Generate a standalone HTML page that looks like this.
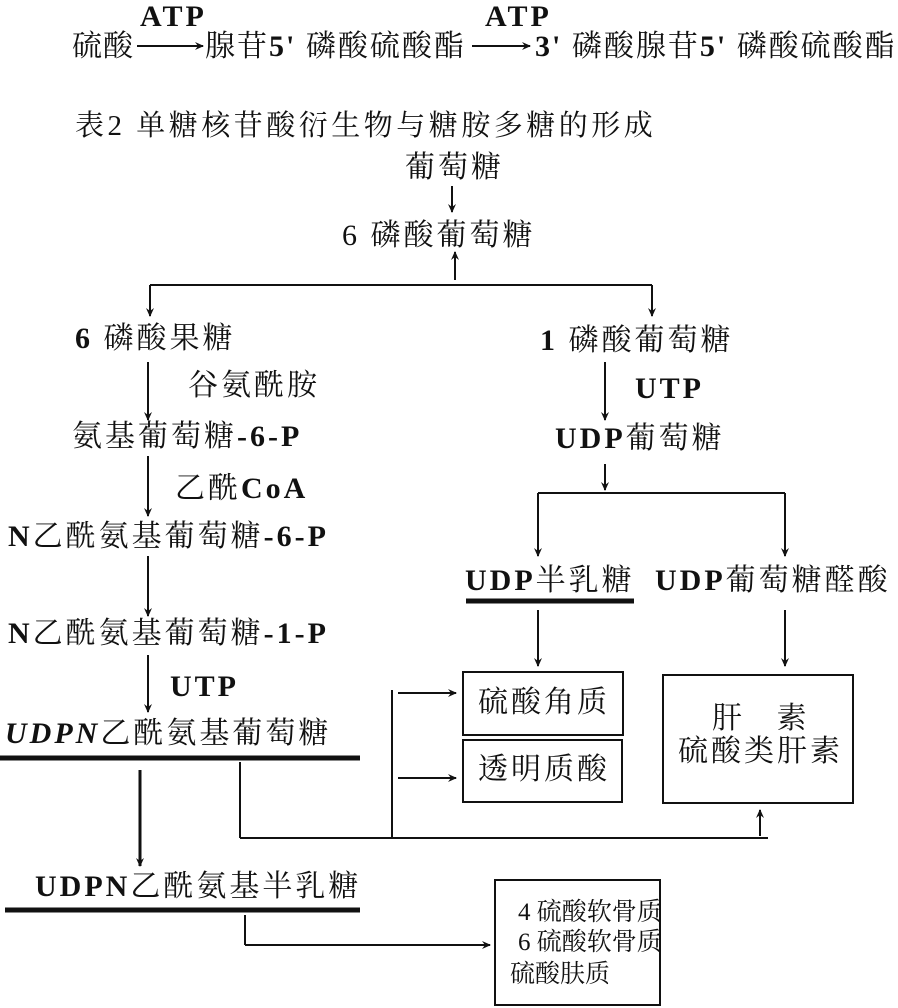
<!DOCTYPE html>
<html><head><meta charset="utf-8"><style>
body{margin:0;width:898px;height:1008px;background:#fff;position:relative;overflow:hidden;font-family:"Liberation Serif","Noto Serif CJK SC","Noto Sans CJK SC",serif;color:#111}
.t{position:absolute;font-size:30px;letter-spacing:3px;white-space:nowrap;line-height:1}
b{font-weight:bold}
svg{position:absolute;left:0;top:0}
</style></head><body>
<svg width="898" height="1008" viewBox="0 0 898 1008">
<defs><marker id="a" markerWidth="10" markerHeight="10" refX="8" refY="5" orient="auto" markerUnits="userSpaceOnUse"><path d="M0,1 L9,5 L0,9 L3,5z" fill="#111"/></marker></defs>
<g stroke="#111" stroke-width="2" fill="none">
<line x1="137" y1="46" x2="203" y2="46" marker-end="url(#a)"/>
<line x1="472" y1="46" x2="530" y2="46" marker-end="url(#a)"/>
<line x1="452" y1="186" x2="452" y2="212" marker-end="url(#a)"/>
<line x1="455" y1="280" x2="455" y2="252" marker-end="url(#a)"/>
<line x1="150" y1="285" x2="652" y2="285"/>
<line x1="150" y1="285" x2="150" y2="316" marker-end="url(#a)"/>
<line x1="652" y1="285" x2="652" y2="316" marker-end="url(#a)"/>
<line x1="148" y1="362" x2="148" y2="420" marker-end="url(#a)"/>
<line x1="605" y1="362" x2="605" y2="420" marker-end="url(#a)"/>
<line x1="148" y1="456" x2="148" y2="516" marker-end="url(#a)"/>
<line x1="605" y1="464" x2="605" y2="490" marker-end="url(#a)"/>
<line x1="538" y1="493" x2="785" y2="493"/>
<line x1="538" y1="493" x2="538" y2="556" marker-end="url(#a)"/>
<line x1="785" y1="493" x2="785" y2="556" marker-end="url(#a)"/>
<line x1="148" y1="556" x2="148" y2="616" marker-end="url(#a)"/>
<line x1="538" y1="610" x2="538" y2="666" marker-end="url(#a)"/>
<line x1="785" y1="610" x2="785" y2="666" marker-end="url(#a)"/>
<line x1="148" y1="655" x2="148" y2="712" marker-end="url(#a)"/>
<line x1="392" y1="690" x2="392" y2="838"/>
<line x1="398" y1="693" x2="456" y2="693" marker-end="url(#a)"/>
<line x1="398" y1="778" x2="456" y2="778" marker-end="url(#a)"/>
<line x1="240" y1="762" x2="240" y2="838"/>
<line x1="240" y1="838" x2="768" y2="838"/>
<line x1="760" y1="836" x2="760" y2="810" marker-end="url(#a)"/>
<line x1="140" y1="770" x2="140" y2="866" stroke-width="3" marker-end="url(#a)"/>
<line x1="245" y1="915" x2="245" y2="945"/>
<line x1="245" y1="945" x2="490" y2="945" marker-end="url(#a)"/>
<rect x="463" y="672" width="160" height="63"/>
<rect x="463" y="740" width="159" height="62"/>
<rect x="663" y="675" width="190" height="128"/>
<rect x="495" y="880" width="165" height="125"/>
</g>
<g stroke="#111" stroke-width="5">
<line x1="466" y1="601" x2="634" y2="601"/>
<line x1="0" y1="758" x2="360" y2="758"/>
<line x1="5" y1="910" x2="360" y2="910"/>
</g>
</svg>
<div class="t" style="left:140px;top:2px"><b>ATP</b></div>
<div class="t" style="left:485px;top:2px"><b>ATP</b></div>
<div class="t" style="left:72px;top:32px;letter-spacing:1px">硫酸</div>
<div class="t" style="left:205px;top:32px;letter-spacing:2px">腺苷<b>5'</b> 磷酸硫酸酯</div>
<div class="t" style="left:535px;top:32px;letter-spacing:2px"><b>3'</b> 磷酸腺苷<b>5'</b> 磷酸硫酸酯</div>
<div class="t" style="left:75px;top:112px;letter-spacing:3.5px;font-size:29px">表2 单糖核苷酸衍生物与糖胺多糖的形成</div>
<div class="t" style="left:405px;top:153px">葡萄糖</div>
<div class="t" style="left:342px;top:221px">6 磷酸葡萄糖</div>
<div class="t" style="left:75px;top:324px"><b>6</b> 磷酸果糖</div>
<div class="t" style="left:540px;top:326px"><b>1</b> 磷酸葡萄糖</div>
<div class="t" style="left:188px;top:371px">谷氨酰胺</div>
<div class="t" style="left:635px;top:374px"><b>UTP</b></div>
<div class="t" style="left:72px;top:422px">氨基葡萄糖<b>-6-P</b></div>
<div class="t" style="left:555px;top:424px"><b>UDP</b>葡萄糖</div>
<div class="t" style="left:175px;top:474px">乙酰<b>CoA</b></div>
<div class="t" style="left:8px;top:522px"><b>N</b>乙酰氨基葡萄糖<b>-6-P</b></div>
<div class="t" style="left:465px;top:566px"><b>UDP</b>半乳糖</div>
<div class="t" style="left:655px;top:566px"><b>UDP</b>葡萄糖醛酸</div>
<div class="t" style="left:8px;top:619px"><b>N</b>乙酰氨基葡萄糖<b>-1-P</b></div>
<div class="t" style="left:170px;top:672px"><b>UTP</b></div>
<div class="t" style="left:5px;top:719px"><b><i>UDPN</i></b>乙酰氨基葡萄糖</div>
<div class="t" style="left:478px;top:688px">硫酸角质</div>
<div class="t" style="left:478px;top:755px">透明质酸</div>
<div class="t" style="left:712px;top:704px">肝&nbsp;&nbsp;&nbsp;素</div>
<div class="t" style="left:678px;top:737px">硫酸类肝素</div>
<div class="t" style="left:35px;top:872px"><b>UDPN</b>乙酰氨基半乳糖</div>
<div class="t" style="left:518px;top:900px;font-size:25px;letter-spacing:0">4 硫酸软骨质</div>
<div class="t" style="left:518px;top:930px;font-size:25px;letter-spacing:0">6 硫酸软骨质</div>
<div class="t" style="left:510px;top:962px;font-size:25px;letter-spacing:0">硫酸肤质</div>
</body></html>
